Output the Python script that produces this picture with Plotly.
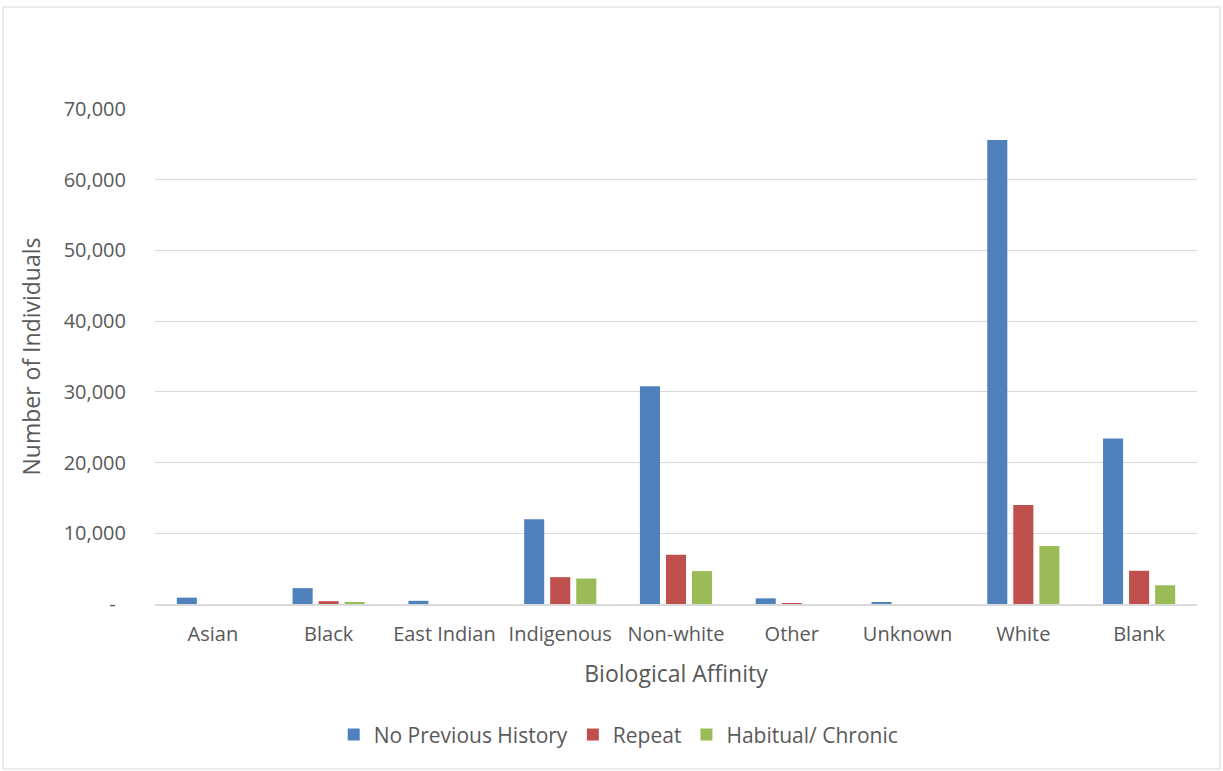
import plotly.graph_objects as go

categories = ["Asian", "Black", "East Indian", "Indigenous", "Non-white", "Other", "Unknown", "White", "Blank"]
no_prev = [900, 2250, 450, 12000, 30800, 800, 250, 65600, 23400]
repeat = [0, 400, 0, 3800, 6950, 80, 0, 14000, 4700]
habitual = [0, 200, 0, 3600, 4650, 0, 0, 8200, 2650]
tick_vals = [0, 10000, 20000, 30000, 40000, 50000, 60000, 70000]
tick_text = ["-\u00a0\u00a0", "10,000", "20,000", "30,000", "40,000", "50,000", "60,000", "70,000"]

FONT = "'Open Sans', sans-serif"
GREY = "#595959"

fig = go.Figure()
for name, vals, col in [("No Previous History", no_prev, "#4F81BD"),
                        ("Repeat", repeat, "#C0504D"),
                        ("Habitual/ Chronic", habitual, "#9BBB59")]:
    fig.add_trace(go.Bar(x=categories, y=vals, name=name, marker_color=col, marker_line_width=0))

fig.update_layout(
    width=1223, height=771,
    paper_bgcolor="white", plot_bgcolor="white",
    margin=dict(l=155, r=26, t=109, b=167),
    barmode="group", bargap=0.325, bargroupgap=0.23,
    font=dict(family=FONT, color=GREY, size=20),
    showlegend=True,
    legend=dict(orientation="h", x=0.445, xanchor="center", y=-0.223, yanchor="top",
                font=dict(size=21, color=GREY, family=FONT), itemwidth=30,
                traceorder="normal"),
    xaxis=dict(title=dict(text="Biological Affinity", font=dict(size=23, color=GREY), standoff=20),
               showline=True, linecolor="#d9d9d9", linewidth=2, ticks="",
               ticklabelstandoff=11,
               tickfont=dict(size=20, color=GREY)),
    yaxis=dict(title=dict(text="Number of Individuals", font=dict(size=23, color=GREY), standoff=16),
               range=[0, 70000], tickvals=tick_vals, ticktext=tick_text,
               showgrid=True, gridcolor="#d9d9d9", gridwidth=1, zeroline=False,
               showline=False, ticks="", ticklabelstandoff=28,
               tickfont=dict(size=20, color=GREY)),
    shapes=[dict(type="rect", xref="paper", yref="paper",
                 x0=(3 - 155) / 1042, x1=(1220 - 155) / 1042,
                 y0=(604 - 769) / 495, y1=(604 - 7) / 495,
                 line=dict(color="#d9d9d9", width=1), layer="below")],
)

fig.write_html("out.html")
